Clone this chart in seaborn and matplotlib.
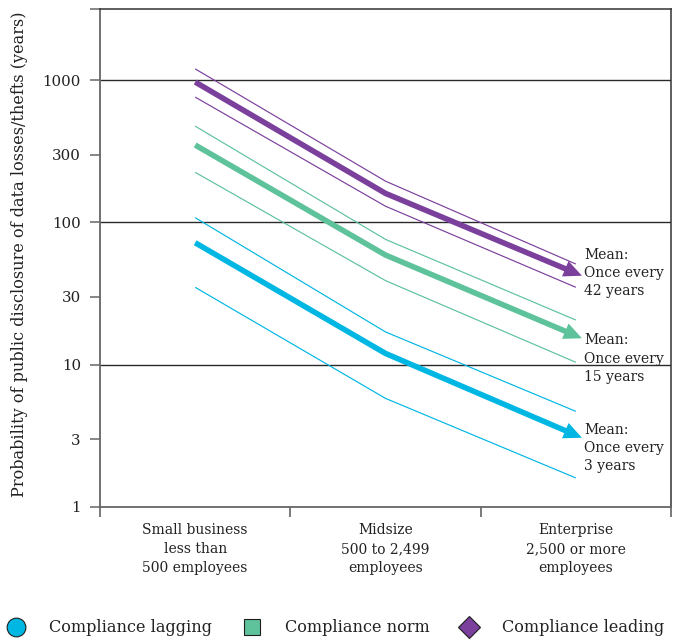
import numpy as np
import pandas as pd
import matplotlib
matplotlib.use("Agg")
import matplotlib.pyplot as plt
from matplotlib.lines import Line2D
from matplotlib.ticker import NullLocator, FixedLocator
import seaborn as sns

# ---------------- data ----------------
categories = ["Small business\nless than\n500 employees",
              "Midsize\n500 to 2,499\nemployees",
              "Enterprise\n2,500 or more\nemployees"]
groups = ["Compliance lagging", "Compliance norm", "Compliance leading"]

lagging_high = [108, 17, 4.7]
lagging_mean = [72, 12, 3.2]
lagging_low = [35, 5.8, 1.6]

norm_high = [475, 76, 20.6]
norm_mean = [350, 59, 16]
norm_low = [225, 39, 10.4]

leading_high = [1200, 195, 51]
leading_mean = [970, 160, 44]
leading_low = [760, 130, 35]

mean_years = [3, 15, 42]

yticks = [1, 3, 10, 30, 100, 300, 1000]
ytick_labels = ["1", "3", "10", "30", "100", "300", "1000"]
grid_values = [10, 100, 1000]

colors = {"Compliance lagging": "#00b7e3",
          "Compliance norm": "#5ec29b",
          "Compliance leading": "#7b3f9c"}

series = {
    "Compliance lagging": {"high": lagging_high, "mean": lagging_mean, "low": lagging_low},
    "Compliance norm": {"high": norm_high, "mean": norm_mean, "low": norm_low},
    "Compliance leading": {"high": leading_high, "mean": leading_mean, "low": leading_low},
}

rows = []
for g in groups:
    for stat, vals in series[g].items():
        for i, v in enumerate(vals):
            rows.append({"pos": i, "value": v, "group": g, "stat": stat})
df = pd.DataFrame(rows)

# ---------------- style ----------------
sns.set_style("white")
plt.rcParams["font.family"] = ["DejaVu Serif"]
plt.rcParams["lines.solid_capstyle"] = "butt"
plt.rcParams["lines.solid_joinstyle"] = "round"
TXT = "#222222"

fig = plt.figure(figsize=(6.73, 6.42), dpi=100)
ax = fig.add_axes([100 / 673, 1 - 507 / 642, 571 / 673, 498 / 642])

for yv in grid_values:
    ax.axhline(yv, color="#2a2a2a", lw=1.0, zorder=1)

sns.lineplot(data=df, x="pos", y="value", hue="group", size="stat",
             palette=colors, sizes={"high": 0.85, "mean": 4.0, "low": 0.85},
             estimator=None, sort=False, legend=False, ax=ax, zorder=3)

ax.set_yscale("log")
ax.set_ylim(1, 10 ** 3.5)
ax.set_xlim(-0.5, len(categories) - 0.5)

# arrow heads on the mean lines
for g in groups:
    m = series[g]["mean"]
    x1, x2 = len(m) - 2, len(m) - 1
    t = 0.032
    xe = x2 + t * (x2 - x1)
    ye = 10 ** (np.log10(m[x2]) + t * (np.log10(m[x2]) - np.log10(m[x1])))
    ax.annotate("", xy=(xe, ye), xytext=(x1, m[x1]),
                arrowprops=dict(arrowstyle="-|>,head_length=13,head_width=6",
                                mutation_scale=1, lw=0, color=colors[g],
                                shrinkA=0, shrinkB=0), zorder=4)

# mean labels
label_offsets = {"Compliance lagging": -9.5, "Compliance norm": -16.5, "Compliance leading": 0}
for g, yrs in zip(groups, mean_years):
    m = series[g]["mean"]
    ax.annotate(f"Mean:\nOnce every\n{yrs} years", xy=(len(m) - 1, m[-1]),
                xytext=(6, label_offsets[g]), textcoords="offset points",
                ha="left", va="center", fontsize=10, color=TXT,
                linespacing=1.38, annotation_clip=False)

# y axis
ax.yaxis.set_major_locator(FixedLocator(yticks + [10 ** 3.5]))
ax.set_yticklabels(ytick_labels + [""])
ax.yaxis.set_minor_locator(NullLocator())
ax.tick_params(axis="y", which="major", length=7.2, width=1.1, color="#666666",
               direction="out", pad=6.5, labelsize=10.8, labelcolor=TXT, left=True)
ax.set_ylabel("Probability of public disclosure of data losses/thefts (years)",
              fontsize=11.6, color=TXT)
ax.yaxis.set_label_coords(-0.126, 0.507)

# x axis
ax.set_xticks(range(len(categories)))
ax.set_xticklabels(categories)
ax.set_xticks(np.arange(-0.5, len(categories), 1.0), minor=True)
ax.tick_params(axis="x", which="major", length=0, pad=11.5, labelsize=10,
               labelcolor=TXT, bottom=True)
ax.tick_params(axis="x", which="minor", length=7.2, width=1.1, color="#555555",
               direction="out", bottom=True)
for lab in ax.get_xticklabels():
    lab.set_linespacing(1.45)
ax.set_xlabel("")

for side in ["left", "bottom"]:
    ax.spines[side].set_color("#666666")
    ax.spines[side].set_linewidth(1.3)
for side in ["top", "right"]:
    ax.spines[side].set_color("#333333")
    ax.spines[side].set_linewidth(1.1)
    ax.spines[side].set_visible(True)

# legend
markers = {"Compliance lagging": ("o", 13.5),
           "Compliance norm": ("s", 12.0),
           "Compliance leading": ("D", 11.5)}
handles = [Line2D([], [], linestyle="none", marker=markers[g][0],
                  markersize=markers[g][1], markerfacecolor=colors[g],
                  markeredgecolor="#1e1e1e", markeredgewidth=0.8) for g in groups]
fig.legend(handles, groups, loc="center left",
           bbox_to_anchor=(8 / 673, 1 - 628 / 642), ncol=3, frameon=False,
           fontsize=11.6, handlelength=1.0, handletextpad=1.55,
           columnspacing=1.95, borderpad=0, borderaxespad=0,
           labelcolor=TXT)

fig.savefig("out.png", dpi=100)
